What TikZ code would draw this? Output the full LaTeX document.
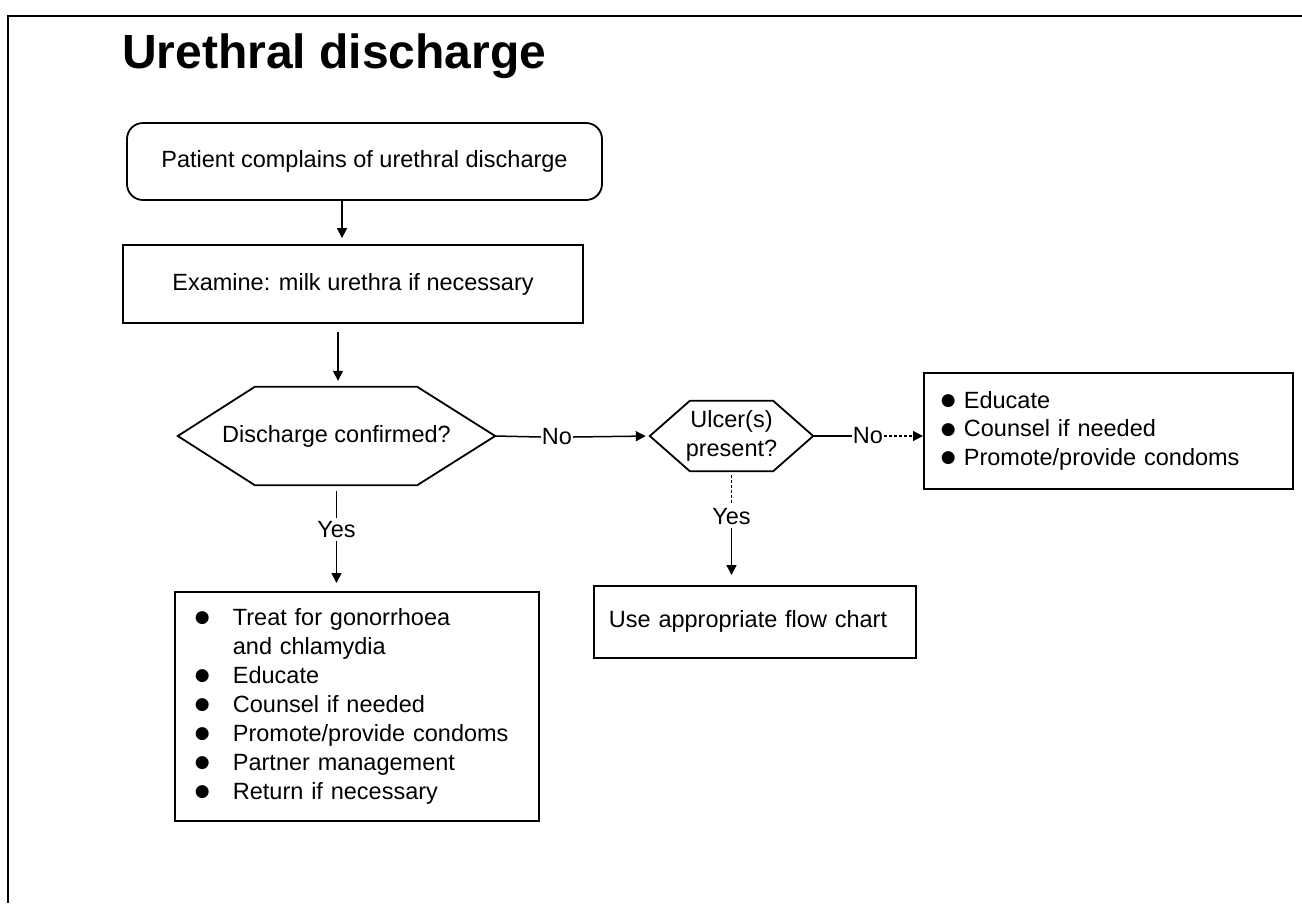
\documentclass[tikz,border=0pt]{standalone}
\usepackage{fontspec}
\setmainfont{Liberation Sans}
\newfontfamily\dejavu{DejaVu Sans}
\usetikzlibrary{arrows.meta,calc}
\newcommand{\bigbul}{\raisebox{2.5pt}{\dejavu\fontsize{17}{20}\selectfont ●}}
\begin{document}
\begin{tikzpicture}[x=1pt,y=-1pt,
  box/.style={draw, line width=1.8pt, inner sep=0pt, font=\fontsize{23.5}{29}\selectfont},
  txt/.style={inner sep=1pt, font=\fontsize{23.5}{29}\selectfont},
  conn/.style={line width=1.5pt},
  arr/.style={line width=1.5pt, -{Triangle[length=10pt,width=10pt]}},
  hexline/.style={line width=1.8pt, line join=miter}
]
\useasboundingbox (0,0) rectangle (1302,903);
% frame
\draw[line width=2pt] (8,903) -- (8,16) -- (1302,16);
% title
\node[anchor=base west, inner sep=0pt, font=\fontsize{48}{52}\selectfont\bfseries] (title) at (122,68) {Urethral discharge};

% boxes
\node[box, rounded corners=16pt, minimum width=475pt, minimum height=77pt] (p) at (364.5,161.5) {Patient complains of urethral discharge};
\node[box, minimum width=460pt, minimum height=78pt] (e) at (353,284) {Examine: milk urethra if necessary};

% hexagon 1
\node[txt, minimum width=317pt, minimum height=98pt] (dc) at (336.5,436) {Discharge confirmed?};
\draw[hexline] (dc.west) -- ($(dc.north west)+(77,0)$) -- ($(dc.north east)+(-78,0)$) -- (dc.east)
  -- ($(dc.south east)+(-78,0)$) -- ($(dc.south west)+(77,0)$) -- cycle;

% hexagon 2
\node[txt, align=center, minimum width=163pt, minimum height=70pt] (uc) at (731.5,436) {Ulcer(s)\\present?};
\draw[hexline] (uc.west) -- ($(uc.north west)+(40,0)$) -- ($(uc.north east)+(-40,0)$) -- (uc.east)
  -- ($(uc.south east)+(-40,0)$) -- ($(uc.south west)+(40,0)$) -- cycle;

% treatment box
\node[box, anchor=north west, minimum width=364pt, minimum height=229pt, inner xsep=20pt,
      text width=324pt, align=left] (t) at (174,591) {%
\makebox[38pt][l]{\bigbul}Treat for gonorrhoea\\
\hspace*{38pt}and chlamydia\\
\makebox[38pt][l]{\bigbul}Educate\\
\makebox[38pt][l]{\bigbul}Counsel if needed\\
\makebox[38pt][l]{\bigbul}Promote/provide condoms\\
\makebox[38pt][l]{\bigbul}Partner management\\
\makebox[38pt][l]{\bigbul}Return if necessary};

% right box
\node[box, anchor=north west, minimum width=369pt, minimum height=116pt, inner xsep=17pt,
      text width=335pt, align=left, font=\fontsize{23.5}{28.5}\selectfont] (r) at (923,372) {%
\makebox[23pt][l]{\bigbul}Educate\\
\makebox[23pt][l]{\bigbul}Counsel if needed\\
\makebox[23pt][l]{\bigbul}Promote/provide condoms};

% flow chart box
\node[box, anchor=north west, minimum width=322pt, minimum height=72pt, inner xsep=15pt,
      text width=292pt, align=left] (f) at (593,585) {Use appropriate flow chart};

% labels
\node[txt] (no1) at (557,437) {No};
\node[txt] (no2) at (868,436) {No};
\node[txt] (yes1) at (336.5,530) {Yes};
\node[txt] (yes2) at (731.5,517) {Yes};

% connectors
\coordinate (a1) at (342,0);
\coordinate (a2) at (338,0);
\draw[arr, shorten >=6pt] (a1 |- p.south) -- (a1 |- e.north);
\draw[arr, shorten <=8pt, shorten >=6pt] (a2 |- e.south) -- (a2 |- dc.north);
\draw[conn] (dc.east) -- (no1.west);
\draw[arr, shorten >=4pt] (no1.east) -- (uc.west);
\draw[conn] (uc.east) -- (no2.west);
\draw[arr, densely dashed, line width=1.2pt] (no2.east) -- (no2.east -| r.west);
\draw[conn, shorten <=6pt, shorten >=3pt] (dc.south) -- (yes1.north);
\draw[arr, shorten <=2pt, shorten >=8pt] (yes1.south) -- (yes1.south |- t.north);
\draw[conn, densely dashed, line width=1.1pt, shorten <=4pt, shorten >=3pt] (uc.south) -- (yes2.north);
\draw[arr, shorten <=2pt, shorten >=10pt] (yes2.south) -- (yes2.south |- f.north);
\end{tikzpicture}
\end{document}
